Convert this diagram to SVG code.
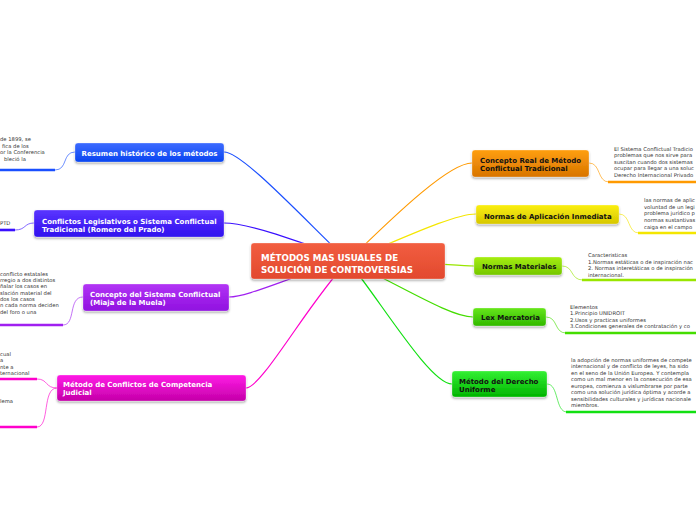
<svg xmlns="http://www.w3.org/2000/svg" width="696" height="520" viewBox="0 0 696 520">
<defs>
<filter id="sh" x="-10%" y="-20%" width="120%" height="160%"><feDropShadow dx="0" dy="1.5" stdDeviation="1.2" flood-color="#000" flood-opacity="0.35"/></filter>
<linearGradient id="gC" x1="0" y1="0" x2="0" y2="1"><stop offset="0" stop-color="#f25e40"/><stop offset="1" stop-color="#e2492e"/></linearGradient>
<linearGradient id="g1" x1="0" y1="0" x2="0" y2="1"><stop offset="0" stop-color="#3d6bff"/><stop offset="1" stop-color="#0a45f0"/></linearGradient>
<linearGradient id="g2" x1="0" y1="0" x2="0" y2="1"><stop offset="0" stop-color="#5a35ff"/><stop offset="1" stop-color="#3010ee"/></linearGradient>
<linearGradient id="g3" x1="0" y1="0" x2="0" y2="1"><stop offset="0" stop-color="#b235f5"/><stop offset="1" stop-color="#9010e0"/></linearGradient>
<linearGradient id="g4" x1="0" y1="0" x2="0" y2="1"><stop offset="0" stop-color="#ff1ae6"/><stop offset="1" stop-color="#c400a8"/></linearGradient>
<linearGradient id="g5" x1="0" y1="0" x2="0" y2="1"><stop offset="0" stop-color="#ff9f10"/><stop offset="1" stop-color="#d87400"/></linearGradient>
<linearGradient id="g6" x1="0" y1="0" x2="0" y2="1"><stop offset="0" stop-color="#fbef10"/><stop offset="1" stop-color="#d6c600"/></linearGradient>
<linearGradient id="g7" x1="0" y1="0" x2="0" y2="1"><stop offset="0" stop-color="#a6ee10"/><stop offset="1" stop-color="#74c600"/></linearGradient>
<linearGradient id="g8" x1="0" y1="0" x2="0" y2="1"><stop offset="0" stop-color="#66e61a"/><stop offset="1" stop-color="#30b800"/></linearGradient>
<linearGradient id="g9" x1="0" y1="0" x2="0" y2="1"><stop offset="0" stop-color="#33f033"/><stop offset="1" stop-color="#00b400"/></linearGradient>
</defs>
<style>
.box{filter:url(#sh);stroke:rgba(255,255,255,0.35);stroke-width:0.8}
.tw{font-family:"DejaVu Sans",Verdana,sans-serif;font-weight:bold;font-size:7px;fill:#fff}
.tb{font-family:"DejaVu Sans",Verdana,sans-serif;font-weight:bold;font-size:7px;fill:#111}
.tc{font-family:"DejaVu Sans",Verdana,sans-serif;font-weight:bold;font-size:8.7px;fill:#fff}
.sm{font-family:"DejaVu Sans",Verdana,sans-serif;font-size:5.25px;fill:#333}
.c{fill:none;stroke-width:1.2}
.cs{fill:none;stroke-width:0.9;opacity:0.7}
.ul{stroke-width:2.6}
</style>
<g id="connectors">
<path class="c" stroke="#1a4fff" d="M224,152 C242,152 300,215 348,261"/>
<path class="c" stroke="#3a10ff" d="M224,223 C245,223 300,240 348,261"/>
<path class="c" stroke="#a020f0" d="M229,297 C250,297 300,272 348,261"/>
<path class="c" stroke="#ff00cc" d="M246,388 C262,388 310,300 348,261"/>
<path class="c" stroke="#ff9a00" d="M472,163 C450,163 400,210 348,261"/>
<path class="c" stroke="#f4e600" d="M476,214 C455,214 410,235 348,261"/>
<path class="c" stroke="#99e600" d="M474,266 C455,266 420,261 348,261"/>
<path class="c" stroke="#44dd00" d="M473,317 C450,317 400,285 348,261"/>
<path class="c" stroke="#11e011" d="M452,384 C430,384 380,300 348,261"/>
<path class="cs" stroke="#1a4fff" d="M75,152 C62,152 68,170 55,170"/>
<path class="cs" stroke="#3a10ff" d="M34,223 C24,223 26,230 15,230"/>
<path class="cs" stroke="#a020f0" d="M83,297 C68,297 76,325 63,325"/>
<path class="cs" stroke="#ff00cc" d="M57,388 C45,388 48,379 37,379"/>
<path class="cs" stroke="#ff00cc" d="M57,388 C42,388 50,427 37,427"/>
<path class="cs" stroke="#ff9a00" d="M589,163 C601,163 597,182 609,182"/>
<path class="cs" stroke="#f4e600" d="M619,214 C631,214 627,233 639,233"/>
<path class="cs" stroke="#99e600" d="M562,266 C574,266 570,280 583,280"/>
<path class="cs" stroke="#44dd00" d="M546,317 C558,317 554,333 566,333"/>
<path class="cs" stroke="#11e011" d="M547,384 C559,384 555,412 567,412"/>
<line class="ul" stroke="#1a4fff" x1="0" y1="170" x2="55" y2="170"/>
<line class="ul" stroke="#3a10ff" x1="0" y1="230" x2="15" y2="230"/>
<line class="ul" stroke="#a020f0" x1="0" y1="325" x2="63" y2="325"/>
<line class="ul" stroke="#ff00cc" x1="0" y1="379" x2="37" y2="379"/>
<line class="ul" stroke="#ff00cc" x1="0" y1="427" x2="37" y2="427"/>
<line class="ul" stroke="#ff9a00" x1="608" y1="182" x2="696" y2="182"/>
<line class="ul" stroke="#f4e600" x1="638" y1="233" x2="696" y2="233"/>
<line class="ul" stroke="#99e600" x1="582" y1="280" x2="696" y2="280"/>
<line class="ul" stroke="#44dd00" x1="565" y1="333" x2="696" y2="333"/>
<line class="ul" stroke="#11e011" x1="566" y1="412" x2="696" y2="412"/>
</g>
<g id="central">
<rect class="box" x="251" y="243" width="194" height="36" rx="3" fill="url(#gC)"/>
<text class="tc" x="261" y="261">MÉTODOS MAS USUALES DE</text>
<text class="tc" x="261" y="273">SOLUCIÓN DE CONTROVERSIAS</text>
</g>
<g id="n1">
<rect class="box" x="75" y="143" width="149" height="19" rx="3" fill="url(#g1)"/>
<text class="tw" x="149.5" y="155.5" text-anchor="middle">Resumen histórico de los métodos</text>
<text class="sm" x="0" y="140.5">de 1899, se</text>
<text class="sm" x="2" y="147.5">fica de los</text>
<text class="sm" x="0" y="154.2">or la Conferencia</text>
<text class="sm" x="4" y="160.8">bleció la</text>
</g>
<g id="n2">
<rect class="box" x="34" y="210" width="190" height="27" rx="3" fill="url(#g2)"/>
<text class="tw" x="42" y="223.5">Conflictos Legislativos o Sistema Conflictual</text>
<text class="tw" x="42" y="231.5">Tradicional (Romero del Prado)</text>
<text class="sm" x="0" y="225">PTD</text>
</g>
<g id="n3">
<rect class="box" x="83" y="284" width="146" height="27" rx="3" fill="url(#g3)"/>
<text class="tw" x="90" y="296.5">Concepto del Sistema Conflictual</text>
<text class="tw" x="90" y="305">(Miaja de la Muela)</text>
<text class="sm" x="0" y="275.5">conflicto estatales</text>
<text class="sm" x="0" y="281.5">rregio a dos distintos</text>
<text class="sm" x="0" y="288">ñalar los casos en</text>
<text class="sm" x="0" y="294.5">slación material del</text>
<text class="sm" x="0" y="300.5">dos los casos</text>
<text class="sm" x="0" y="307">n cada norma deciden</text>
<text class="sm" x="0" y="314">del foro o una</text>
</g>
<g id="n4">
<rect class="box" x="57" y="375" width="189" height="26" rx="3" fill="url(#g4)"/>
<text class="tw" x="63" y="387">Método de Conflictos de Competencia</text>
<text class="tw" x="63" y="395">Judicial</text>
<text class="sm" x="0" y="355.5">cual</text>
<text class="sm" x="0" y="362">a</text>
<text class="sm" x="0" y="368.5">nte a</text>
<text class="sm" x="0" y="375">ternacional</text>
<text class="sm" x="0" y="403">lema</text>
</g>
<g id="n5">
<rect class="box" x="472" y="150" width="117" height="27" rx="3" fill="url(#g5)"/>
<text class="tb" x="480" y="162.5">Concepto Real de Método</text>
<text class="tb" x="480" y="170.5">Conflictual Tradicional</text>
<text class="sm" x="614" y="150.5">El Sistema Conflictual Tradicio</text>
<text class="sm" x="614" y="157">problemas que nos sirve para</text>
<text class="sm" x="614" y="163.5">suscitan cuando dos sistemas</text>
<text class="sm" x="614" y="170">ocupar para llegar a una soluc</text>
<text class="sm" x="614" y="176.5">Derecho Internacional Privado</text>
</g>
<g id="n6">
<rect class="box" x="476" y="205" width="143" height="19" rx="3" fill="url(#g6)"/>
<text class="tb" x="484" y="218.5">Normas de Aplicación Inmediata</text>
<text class="sm" x="644" y="202">las normas de aplic</text>
<text class="sm" x="644" y="208.7">voluntad de un legi</text>
<text class="sm" x="644" y="215.4">problema jurídico p</text>
<text class="sm" x="644" y="222">normas sustantivas</text>
<text class="sm" x="644" y="228.7">caiga en el campo</text>
</g>
<g id="n7">
<rect class="box" x="474" y="257" width="88" height="18" rx="3" fill="url(#g7)"/>
<text class="tb" x="482" y="268.5">Normas Materiales</text>
<text class="sm" x="588" y="256.8">Caracteristicas</text>
<text class="sm" x="588" y="263.5">1.Normas estáticas o de inspiración nac</text>
<text class="sm" x="588" y="270">2. Normas interetáticas o de inspiración</text>
<text class="sm" x="588" y="276.8">internacional.</text>
</g>
<g id="n8">
<rect class="box" x="473" y="308" width="73" height="18" rx="3" fill="url(#g8)"/>
<text class="tb" x="481" y="320">Lex Mercatoria</text>
<text class="sm" x="570" y="308.8">Elementos</text>
<text class="sm" x="570" y="315">1.Principio UNIDROIT</text>
<text class="sm" x="570" y="321.8">2.Usos y practicas uniformes</text>
<text class="sm" x="570" y="328">3.Condiciones generales de contratación y co</text>
</g>
<g id="n9">
<rect class="box" x="452" y="371" width="95" height="26" rx="3" fill="url(#g9)"/>
<text class="tb" x="459" y="383.5">Método del Derecho</text>
<text class="tb" x="459" y="391.5">Uniforme</text>
<text class="sm" x="571" y="361.8">la adopción de normas uniformes de compete</text>
<text class="sm" x="571" y="368.3">internacional y de conflicto de leyes, ha sido</text>
<text class="sm" x="571" y="374.8">en el seno de la Unión Europea. Y contempla</text>
<text class="sm" x="571" y="381.3">como un mal menor en la consecución de esa</text>
<text class="sm" x="571" y="387.8">europea, comienza a vislumbrarse por parte</text>
<text class="sm" x="571" y="394.3">como una solución jurídica óptima y acorde a</text>
<text class="sm" x="571" y="400.8">sensibilidades culturales y jurídicas nacionale</text>
<text class="sm" x="571" y="407.3">miembros.</text>
</g>
</svg>
